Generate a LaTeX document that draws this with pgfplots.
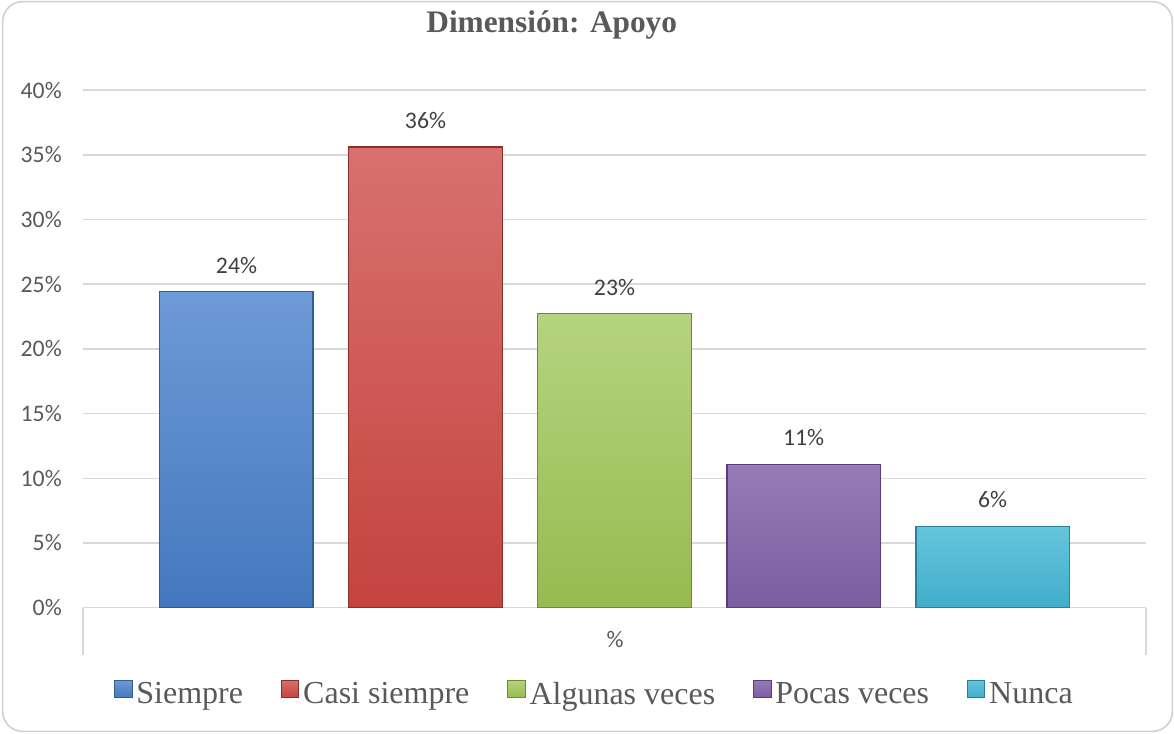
\documentclass[border=0pt]{standalone}
\usepackage{pgfplots}
\pgfplotsset{compat=1.18}
\usepackage{fontspec}
\setmainfont{Liberation Serif}
\newfontfamily\carlito{Carlito}
\definecolor{txt}{HTML}{595959}
\definecolor{lab}{HTML}{404040}
\definecolor{gridc}{HTML}{D9D9D9}
\definecolor{bord}{HTML}{D0D0D0}
\definecolor{bT}{HTML}{6E9AD6}\definecolor{bB}{HTML}{4478BE}\definecolor{bE}{HTML}{2F5D94}
\definecolor{rT}{HTML}{D8716E}\definecolor{rB}{HTML}{C4433F}\definecolor{rE}{HTML}{8C2E2C}
\definecolor{gT}{HTML}{B6D37E}\definecolor{gB}{HTML}{98BA50}\definecolor{gE}{HTML}{6E8A35}
\definecolor{pT}{HTML}{957CB6}\definecolor{pB}{HTML}{7B5DA1}\definecolor{pE}{HTML}{573F76}
\definecolor{aT}{HTML}{66C5DD}\definecolor{aB}{HTML}{41ADCA}\definecolor{aE}{HTML}{2B7F97}
\pgfplotsset{
  mybar/.style n args={3}{top color=#1, bottom color=#2, draw=#3, line width=0.8pt, bar shift=0pt,
    legend image code/.code={\shade[top color=#1,bottom color=#2,draw=#3,line width=0.6pt] (0pt,-2.25pt) rectangle (13pt,10.75pt);}},
}
\begin{document}
\begin{tikzpicture}
\useasboundingbox (0,0) rectangle (880.5pt,549.75pt);
\draw[draw=bord, line width=1.2pt, rounded corners=15pt] (2pt,1.2pt) rectangle (879.3pt,548.5pt);
\node[anchor=base, font=\bfseries\fontsize{23.5}{28}\selectfont, text=txt] at (413.8pt,525pt) {Dimensión: Apoyo};
\draw[gridc, line width=1.1pt] (62.25pt,94pt) -- (62.25pt,58.75pt);
\draw[gridc, line width=1.1pt] (859.5pt,94pt) -- (859.5pt,58.75pt);
\node[font=\carlito\fontsize{17.8}{20}\selectfont, text=txt] at (461.25pt,69.75pt) {\%};
\begin{axis}[
  at={(62.25pt,94pt)}, anchor=south west,
  scale only axis, width=797.25pt, height=388.2pt,
  xmin=-0.812, xmax=4.812, ymin=0, ymax=40,
  ytick={0,5,...,40}, xtick=\empty,
  yticklabel={\pgfmathprintnumber{\tick}\%},
  /pgf/number format/assume math mode=true,
  ticklabel style={font=\carlito\fontsize{17.8}{20}\selectfont, text=txt},
  yticklabel style={inner sep=0pt, xshift=-15.75pt},
  major tick length=0pt,
  axis line style={draw=none},
  ymajorgrids, grid style={draw=gridc, line width=1.1pt},
  ybar, bar width=0.81,
  nodes near coords={\pgfmathprintnumber[fixed,precision=0]{\pgfplotspointmeta}\%},
  every node near coord/.append style={font=\carlito\fontsize{17.8}{20}\selectfont, text=lab, anchor=south, inner sep=0pt, yshift=13.5pt},
  legend style={draw=none, fill=none, at={(0.0292,-0.165)}, anchor=west, legend columns=-1,
    font=\fontsize{24}{28}\selectfont, text=txt, inner sep=0pt,
    nodes={inner sep=0pt},
    /tikz/every odd column/.append style={column sep=3pt},
    /tikz/every even column/.append style={column sep=28.5pt}},
  clip=false,
]
\addplot[mybar={bT}{bB}{bE}] coordinates {(0,24.4)};
\addplot[mybar={rT}{rB}{rE}] coordinates {(1,35.6)};
\addplot[mybar={gT}{gB}{gE}] coordinates {(2,22.7)};
\addplot[mybar={pT}{pB}{pE}] coordinates {(3,11.1)};
\addplot[mybar={aT}{aB}{aE}] coordinates {(4,6.3)};
\legend{Siempre,Casi siempre,Algunas veces,Pocas veces,Nunca}
\end{axis}
\end{tikzpicture}
\end{document}
